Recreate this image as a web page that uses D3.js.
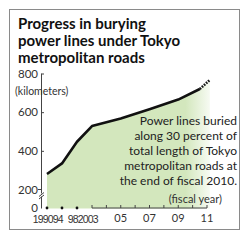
<!doctype html>
<html>
  <head>
    <script src="https://cdnjs.cloudflare.com/ajax/libs/d3/7.8.5/d3.min.js"></script>
    <style>
      body { margin: 0; background: #fff; }
      text { font-family: Lato, sans-serif; fill: #222; }
    </style>
  </head>
  <body>
    <svg></svg>
    <script>
      var width = 250,
          height = 242;

      // fiscal year / kilometers buried
      var years = [1990, 1994, 1998, 2003, 2005, 2007, 2009, 2010.5];
      var km = [280, 335, 447, 528, 567, 615, 665, 720];
      // projected (dotted) part
      var projYears = [2010.5, 2011.2];
      var projKm = [720, 767];

      var yTicks = [0, 200, 400, 600, 800];
      var xTickYears = [1990, 1994, 1998, 2003, 2005, 2007, 2009, 2011];
      var xTickLabels = ["1990", "94", "98", "2003", "05", "07", "09", "11"];
      var yearTicks = [2003, 2004, 2005, 2006, 2007, 2008, 2009, 2010, 2011];
      var dotYears = [1990, 1994, 1998];

      var titleLines = ["Progress in burying", "power lines under Tokyo", "metropolitan roads"];
      var noteLines = ["Power lines buried", "along 30 percent of", "total length of Tokyo",
                       "metropolitan roads at", "the end of fiscal 2010."];

      var svg = d3.select("svg").attr("width", width).attr("height", height);

      // both axes are broken, so piecewise scales
      var x = d3.scaleLinear().domain([1990, 1998, 2003, 2011]).range([47, 77, 92, 207]);
      var y = d3.scaleLinear().domain([0, 200, 800]).range([208.5, 189.5, 73.5]);

      // frame
      svg.append("rect").attr("x", 9.5).attr("y", 9.5).attr("width", 230).attr("height", 220)
        .attr("fill", "none").attr("stroke", "#8a8a8a");

      // title
      svg.append("g").selectAll("text").data(titleLines).enter().append("text")
        .attr("x", 18).attr("y", (d, i) => 29 + i * 17)
        .style("font-size", "15px").style("font-weight", "bold").style("fill", "#111")
        .text(d => d);

      // area with fade on the right
      var grad = svg.append("defs").append("linearGradient").attr("id", "fade")
        .attr("gradientUnits", "userSpaceOnUse")
        .attr("x1", x(2009.5)).attr("x2", x(2011.6)).attr("y1", 0).attr("y2", 0);
      grad.append("stop").attr("offset", 0).attr("stop-color", "#d3e7bd").attr("stop-opacity", 1);
      grad.append("stop").attr("offset", 1).attr("stop-color", "#d3e7bd").attr("stop-opacity", 0);

      var allPts = years.map((d, i) => [d, km[i]]).concat([[projYears[1], projKm[1]]]);
      var area = d3.area().x(d => x(d[0])).y0(y(0)).y1(d => y(d[1]));
      svg.append("path").datum(allPts).attr("d", area).attr("fill", "url(#fade)");

      // y axis
      var yAxis = svg.append("g").attr("stroke", "#444").attr("fill", "none");
      yAxis.append("path").attr("d", "M41.5," + y(800) + "V" + y(0));
      yAxis.selectAll("line.t").data(yTicks.filter(d => d >= 400)).enter().append("line")
        .attr("x1", 41.5).attr("x2", 44).attr("y1", d => y(d) + 0.5).attr("y2", d => y(d) + 0.5);
      yAxis.append("line").attr("x1", 38).attr("x2", 41.5).attr("y1", y(200)).attr("y2", y(200));
      // break mark
      svg.append("rect").attr("x", 39).attr("y", y(200) + 4).attr("width", 6).attr("height", 3).attr("fill", "#fff");
      svg.append("path").attr("d", "M39," + (y(200) + 7) + "l5,-4M39," + (y(200) + 9.5) + "l5,-4")
        .attr("stroke", "#444").attr("fill", "none");

      svg.append("g").selectAll("text").data(yTicks).enter().append("text")
        .attr("x", 38).attr("y", d => y(d) + (d === 0 ? 3 : 4)).attr("text-anchor", "end")
        .style("font-size", "11.5px").style("fill", "#333")
        .text(d => d);

      svg.append("text").attr("x", 15).attr("y", 95).style("font-size", "10.5px").style("fill", "#333")
        .text("(kilometers)");

      // x axis
      var xAxis = svg.append("g").attr("stroke", "#444").attr("fill", "none");
      xAxis.append("path").attr("d", "M" + x(2003) + "," + (y(0) - 0.5) + "H" + x(2011));
      xAxis.selectAll("line").data(yearTicks).enter().append("line")
        .attr("x1", d => x(d)).attr("x2", d => x(d)).attr("y1", y(0) - 0.5).attr("y2", y(0) - 3.5);
      svg.append("g").selectAll("circle").data(dotYears).enter().append("circle")
        .attr("cx", d => x(d)).attr("cy", y(0) - 0.5).attr("r", 1.4).attr("fill", "#111");

      // the early labels sit close together, so a narrow face for them
      var early = d => d <= 2003;
      svg.append("g").selectAll("text").data(xTickYears).enter().append("text")
        .attr("x", d => early(d) ? x(d) - 4.3 : x(d)).attr("y", d => early(d) ? 222.5 : 222)
        .attr("text-anchor", "middle")
        .style("font-family", d => early(d) ? "'Liberation Sans Narrow', sans-serif" : null)
        .style("font-size", d => early(d) ? "10.5px" : "11px")
        .style("letter-spacing", d => early(d) ? "-0.9px" : null)
        .style("fill", "#333")
        .text((d, i) => xTickLabels[i]);

      svg.append("text").attr("x", 222).attr("y", 203).attr("text-anchor", "end")
        .style("font-size", "11px").style("fill", "#333")
        .text("(fiscal year)");

      // line
      var line = d3.line().x(d => x(d[0])).y(d => y(d[1]));
      svg.append("path").datum(years.map((d, i) => [d, km[i]])).attr("d", line)
        .attr("fill", "none").attr("stroke", "#111").attr("stroke-width", 2.6).attr("stroke-linejoin", "round");
      svg.append("path").datum(projYears.map((d, i) => [d, projKm[i]])).attr("d", line)
        .attr("fill", "none").attr("stroke", "#111").attr("stroke-width", 2.6).attr("stroke-dasharray", "1.6,1.2");

      // annotation
      svg.append("g").selectAll("text").data(noteLines).enter().append("text")
        .attr("x", 237).attr("y", (d, i) => 124.5 + i * 15).attr("text-anchor", "end")
        .style("font-size", "12px").style("fill", "#222")
        .text(d => d);
    </script>
  </body>
</html>
